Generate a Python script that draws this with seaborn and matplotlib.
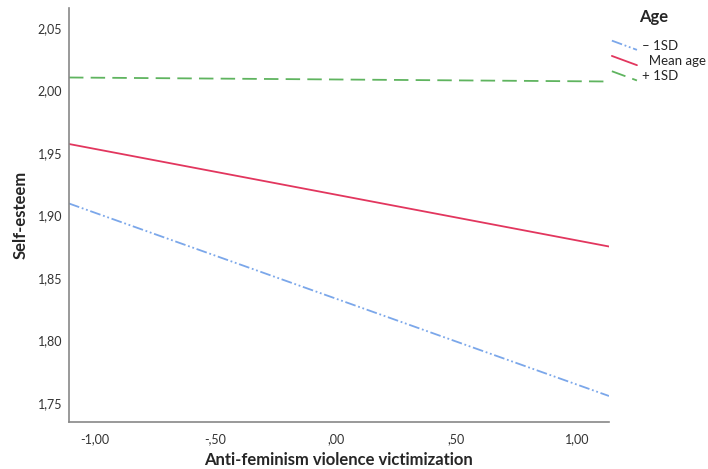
import numpy as np
import pandas as pd
import seaborn as sns
import matplotlib.pyplot as plt
from matplotlib.lines import Line2D
from matplotlib.legend_handler import HandlerLine2D

# predicted self-esteem at the ends of the x range, per age group
x_ends = [-1.108, 1.133]
low_age = [1.9096, 1.7556]
mean_age = [1.9572, 1.8752]
high_age = [2.0104, 2.0072]
groups = ['– 1SD', 'Mean age', '+ 1SD']

df = pd.DataFrame({
    'x': x_ends * 3,
    'y': low_age + mean_age + high_age,
    'Age': [g for g in groups for _ in range(2)],
})

palette = {'– 1SD': '#7ba7ea', 'Mean age': '#e2365e', '+ 1SD': '#5fb45f'}
dashes = {'– 1SD': (6, 1.5, 1, 1.5, 1, 1.5), 'Mean age': '', '+ 1SD': (8, 4)}

sns.set_theme(style='white')
plt.rcParams['font.family'] = ['Lato', 'DejaVu Sans']

fig = plt.figure(figsize=(7.08, 4.69), dpi=100)
ax = fig.add_axes([69 / 708, 1 - 422 / 469, 540 / 708, 414 / 469])
sns.lineplot(data=df, x='x', y='y', hue='Age', style='Age', palette=palette,
             dashes=dashes, linewidth=1.3, ax=ax, legend=False)

ax.set_xlim(-1.108, 1.133)
ax.set_ylim(1.7348, 2.066)
ax.set_xticks([-1.0, -0.5, 0.0, 0.5, 1.0])
ax.set_xticklabels(['-1,00', '-,50', ',00', ',50', '1,00'])
ax.set_yticks([1.75, 1.80, 1.85, 1.90, 1.95, 2.00, 2.05])
ax.set_yticklabels(['1,75', '1,80', '1,85', '1,90', '1,95', '2,00', '2,05'])
ax.tick_params(axis='both', length=0, labelsize=9, labelcolor='#333333')
ax.tick_params(axis='x', pad=8)
ax.tick_params(axis='y', pad=5)
for s in ['top', 'right']:
    ax.spines[s].set_visible(False)
for s in ['left', 'bottom']:
    ax.spines[s].set_color('#888888')
    ax.spines[s].set_linewidth(1.2)

ax.set_xlabel('Anti-feminism violence victimization', fontsize=12, fontweight='bold')
ax.set_ylabel('Self-esteem', fontsize=12, fontweight='bold')
ax.xaxis.set_label_coords((338 - 69) / 540, (422 - 460) / 414)
ax.yaxis.set_label_coords((21 - 69) / 540, 0.5)
ax.xaxis.label.set_va('center')
ax.yaxis.label.set_va('center')


# SPSS style legend keys are drawn as short diagonal strokes
class DiagHandler(HandlerLine2D):
    def create_artists(self, legend, orig_handle, xdescent, ydescent, width, height, fontsize, trans):
        line = Line2D([0, width], [height, 0])
        self.update_prop(line, orig_handle, legend)
        line.set_transform(trans)
        return [line]


handles = []
for g in groups:
    d = dashes[g]
    ls = '-' if d == '' else (0, d)
    handles.append(Line2D([], [], color=palette[g], linestyle=ls, linewidth=1.3))
labels = ['– 1SD', '  Mean age', '+ 1SD']
leg = fig.legend(handles, labels, loc='upper left', bbox_to_anchor=(600 / 708, 1 - 28 / 469),
                 frameon=False, fontsize=9.5, handlelength=1.9, handletextpad=0.35, labelspacing=0.25,
                 handler_map={Line2D: DiagHandler()})
fig.text(654 / 708, 1 - 17 / 469, 'Age', fontsize=12, fontweight='bold', ha='center', va='center')

fig.savefig('out.png', dpi=100)
